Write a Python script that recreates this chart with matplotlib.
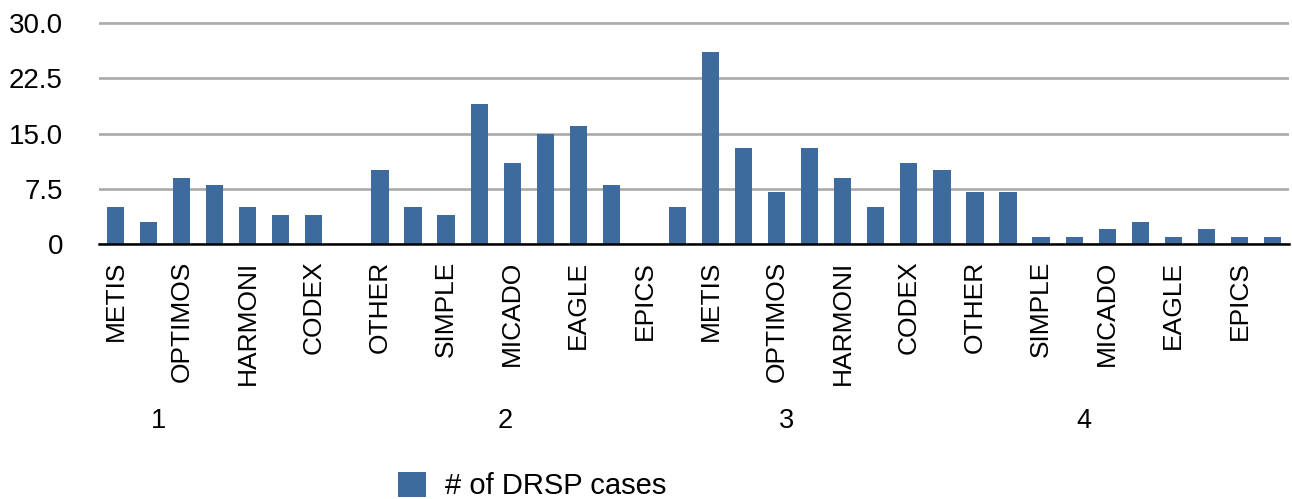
import numpy as np
import matplotlib
matplotlib.use("Agg")
import matplotlib.pyplot as plt
from matplotlib.transforms import blended_transform_factory

plt.rcParams['font.family'] = ['Liberation Sans', 'DejaVu Sans']

# ---- data ----
instruments = ["METIS", "SIMPLE", "OPTIMOS", "MICADO", "HARMONI",
               "EAGLE", "CODEX", "EPICS", "OTHER"]
groups = ["1", "2", "3", "4"]
values_g1 = [5, 3, 9, 8, 5, 4, 4, 0, 10]
values_g2 = [5, 4, 19, 11, 15, 16, 8, 0, 5]
values_g3 = [26, 13, 7, 13, 9, 5, 11, 10, 7]
values_g4 = [7, 1, 1, 2, 3, 1, 2, 1, 1]
series_name = "# of DRSP cases"
yticks = [0, 7.5, 15.0, 22.5, 30.0]
ytick_labels = ["0", "7.5", "15.0", "22.5", "30.0"]
# positions (in category units) where the group labels sit in the reference
group_label_pos = [1.3, 11.8, 20.3, 29.3]

categories = instruments * len(groups)
values = values_g1 + values_g2 + values_g3 + values_g4
x = np.arange(len(categories))

W, H = 1292, 499
fig = plt.figure(figsize=(W / 100, H / 100), dpi=100)
ax = fig.add_axes([99 / W, 1 - 244 / H, (1289 - 99) / W, (244 - 20.8) / H])

bar_color = "#3d6b9d"
bars = ax.bar(x, values, width=0.52, color=bar_color, zorder=3, label=series_name)

ax.set_xlim(-0.5, len(categories) - 0.5)
ax.set_ylim(0, 30.3)

ax.set_yticks(yticks)
ax.set_yticklabels(ytick_labels)
ax.yaxis.grid(True, color="#a9a9a9", linewidth=1.9, zorder=0)
ax.set_axisbelow(True)
ax.tick_params(axis="y", length=0, pad=26, labelsize=20)

ax.set_xticks(x[::2])
ax.set_xticklabels(categories[::2], rotation=90)
ax.tick_params(axis="x", length=0, pad=12, labelsize=19)

for s in ["top", "right", "left"]:
    ax.spines[s].set_visible(False)
ax.spines["bottom"].set_color("black")
ax.spines["bottom"].set_linewidth(1.8)
ax.spines["bottom"].set_zorder(4)

trans = blended_transform_factory(ax.transData, fig.transFigure)
for pos, g in zip(group_label_pos, groups):
    ax.text(pos, 1 - 421 / H, g, transform=trans, ha="center", va="center",
            fontsize=19.5)

ax.legend(handles=[bars], labels=[series_name], loc="center left",
          bbox_to_anchor=(398 / W, 1 - 486 / H), bbox_transform=fig.transFigure,
          frameon=False, fontsize=21, handlelength=0.95, handleheight=0.93,
          handletextpad=0.66, borderpad=0, borderaxespad=0)

fig.savefig("out.png", dpi=100)
